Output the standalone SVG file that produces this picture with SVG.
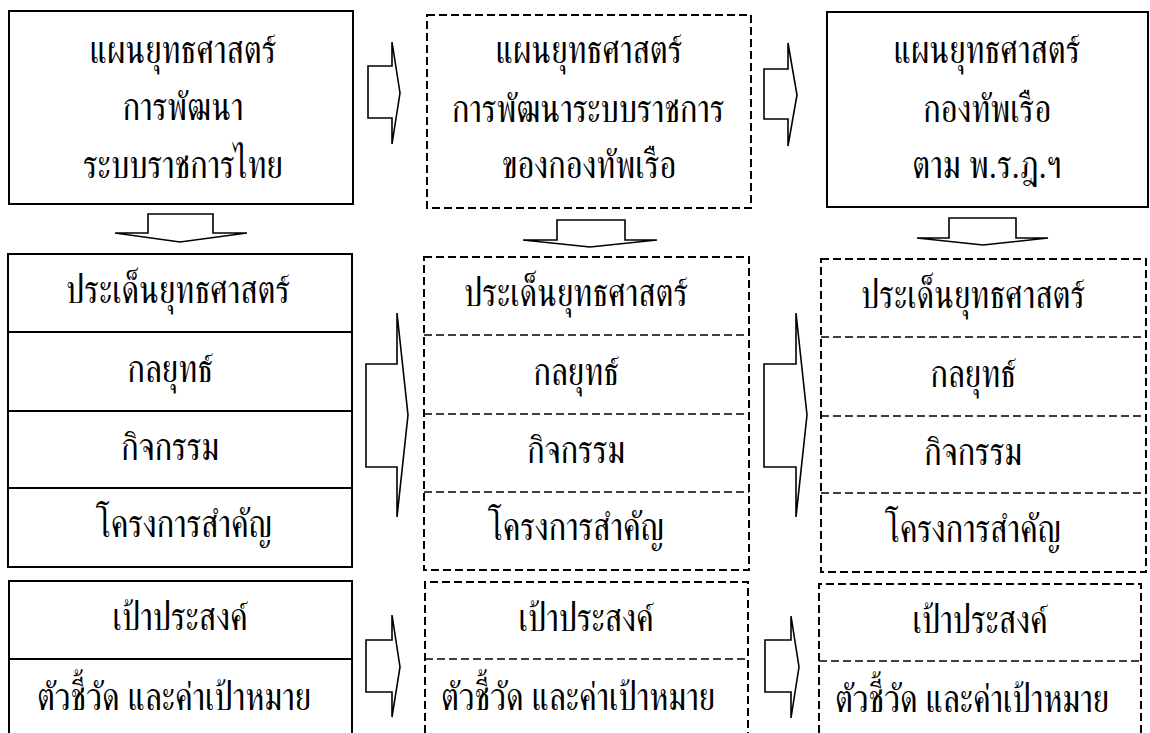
<svg xmlns="http://www.w3.org/2000/svg" width="1150" height="733" viewBox="0 0 1150 733">
<style>
.solid{fill:#fff;stroke:#000;stroke-width:2}
.dash{fill:#fff;stroke:#000;stroke-width:2;stroke-dasharray:8 4}
.div{stroke:#000;stroke-width:2;fill:none}
.ddiv{stroke:#000;stroke-width:1.6;fill:none;stroke-dasharray:8 4}
.arr{fill:#fff;stroke:#000;stroke-width:1.6;stroke-linejoin:miter}
text{font-family:"FreeSerif","Noto Serif Thai","Liberation Serif",serif;font-size:33px;fill:#000;text-anchor:middle}
</style>
<rect width="1150" height="733" fill="#fff"/>
<g id="connectors">
<path class="arr" d="M368,66 H392 V42 L400,93 L392,144 V118 H368 Z"/>
<path class="arr" d="M764,69 H788 V43 L797,95 L788,146 V119 H764 Z"/>
<path class="arr" d="M148,214 H213 V233 H247 L180,242 L115,233 H148 Z"/>
<path class="arr" d="M557,220 H625 V240 H657 L590,247 L523,240 H557 Z"/>
<path class="arr" d="M949,218 H1016 V238 H1048 L983,245 L917,238 H949 Z"/>
<path class="arr" d="M366,364 H397 V313 L408,415 L397,517 V467 H366 Z"/>
<path class="arr" d="M764,364 H796 V313 L807,415 L796,517 V467 H764 Z"/>
<path class="arr" d="M366,640 H392 V615 L400,667 L392,717 V692 H366 Z"/>
<path class="arr" d="M765,640 H791 V616 L799,667 L791,718 V692 H765 Z"/>
</g>
<g id="plan-thai">
<rect class="solid" x="9" y="11" width="344" height="193"/>
<text transform="translate(183,63) scale(1,1.2)">แผนยุทธศาสตร์</text>
<text transform="translate(183,120) scale(1,1.2)">การพัฒนา</text>
<text transform="translate(183,178) scale(1,1.2)">ระบบราชการไทย</text>
</g>
<g id="plan-navy-dev">
<rect class="dash" x="427" y="15" width="324" height="193"/>
<text transform="translate(589,63) scale(1,1.2)">แผนยุทธศาสตร์</text>
<text transform="translate(588,122) scale(1,1.2)">การพัฒนาระบบราชการ</text>
<text transform="translate(589,178) scale(1,1.2)">ของกองทัพเรือ</text>
</g>
<g id="plan-navy">
<rect class="solid" x="827" y="12" width="321" height="195"/>
<text transform="translate(987,63) scale(1,1.2)">แผนยุทธศาสตร์</text>
<text transform="translate(987,122) scale(1,1.2)">กองทัพเรือ</text>
<text transform="translate(987,178) scale(1,1.2)">ตาม พ.ร.ฎ.ฯ</text>
</g>
<g id="stack-left">
<rect class="solid" x="8" y="254" width="344" height="313"/>
<line class="div" x1="8" y1="332" x2="352" y2="332"/>
<line class="div" x1="8" y1="411" x2="352" y2="411"/>
<line class="div" x1="8" y1="488" x2="352" y2="488"/>
<text transform="translate(178,303) scale(1,1.2)">ประเด็นยุทธศาสตร์</text>
<text transform="translate(170,382) scale(1,1.2)">กลยุทธ์</text>
<text transform="translate(170,460) scale(1,1.2)">กิจกรรม</text>
<text transform="translate(184,537) scale(1,1.2)">โครงการสำคัญ</text>
</g>
<g id="stack-mid">
<rect class="dash" x="424" y="257" width="325" height="313"/>
<line class="ddiv" x1="424" y1="335" x2="749" y2="335"/>
<line class="ddiv" x1="424" y1="414" x2="749" y2="414"/>
<line class="ddiv" x1="424" y1="492" x2="749" y2="492"/>
<text transform="translate(576,306) scale(1,1.2)">ประเด็นยุทธศาสตร์</text>
<text transform="translate(576,385) scale(1,1.2)">กลยุทธ์</text>
<text transform="translate(576,463) scale(1,1.2)">กิจกรรม</text>
<text transform="translate(576,540) scale(1,1.2)">โครงการสำคัญ</text>
</g>
<g id="stack-right">
<rect class="dash" x="821" y="259" width="325" height="313"/>
<line class="ddiv" x1="821" y1="337" x2="1146" y2="337"/>
<line class="ddiv" x1="821" y1="416" x2="1146" y2="416"/>
<line class="ddiv" x1="821" y1="493" x2="1146" y2="493"/>
<text transform="translate(973,308) scale(1,1.2)">ประเด็นยุทธศาสตร์</text>
<text transform="translate(973,387) scale(1,1.2)">กลยุทธ์</text>
<text transform="translate(973,465) scale(1,1.2)">กิจกรรม</text>
<text transform="translate(973,542) scale(1,1.2)">โครงการสำคัญ</text>
</g>
<g id="goal-left">
<path class="div" d="M9,745 V581 H352 V745"/>
<line class="div" x1="9" y1="659" x2="352" y2="659"/>
<text transform="translate(180,630) scale(1,1.2)">เป้าประสงค์</text>
<text transform="translate(174,710) scale(1,1.2)">ตัวชี้วัด และค่าเป้าหมาย</text>
</g>
<g id="goal-mid">
<path class="ddiv" style="stroke-width:2" d="M425,745 V582 H748 V745"/>
<line class="ddiv" x1="425" y1="659" x2="748" y2="659"/>
<text transform="translate(586,631) scale(1,1.2)">เป้าประสงค์</text>
<text transform="translate(578,710) scale(1,1.2)">ตัวชี้วัด และค่าเป้าหมาย</text>
</g>
<g id="goal-right">
<path class="ddiv" style="stroke-width:2" d="M819,745 V584 H1141 V745"/>
<line class="ddiv" x1="819" y1="661" x2="1141" y2="661"/>
<text transform="translate(980,633) scale(1,1.2)">เป้าประสงค์</text>
<text transform="translate(972,712) scale(1,1.2)">ตัวชี้วัด และค่าเป้าหมาย</text>
</g>
</svg>
